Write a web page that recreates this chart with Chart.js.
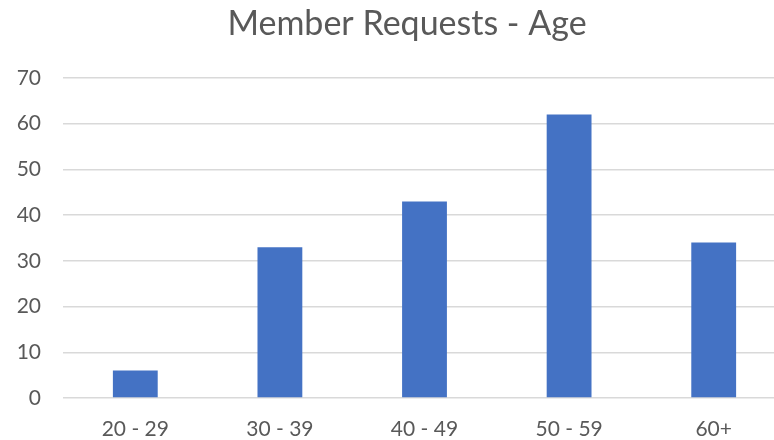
<!DOCTYPE html>
<html><head><meta charset="utf-8">
<script src="https://cdn.jsdelivr.net/npm/chart.js@4"></script>
<style>
html,body{margin:0;padding:0;overflow:hidden;background:#fff;width:774px;height:440px;}
#wrap{position:absolute;left:0;top:0;width:786px;height:440px;}
</style></head>
<body>
<div id="wrap"><canvas id="c" width="786" height="440"></canvas></div>
<script>
const categories = ["20 - 29", "30 - 39", "40 - 49", "50 - 59", "60+"];
const requests = [6, 33, 43, 62, 34];
const yTicks = [0, 10, 20, 30, 40, 50, 60, 70];

const FONT = "Lato, 'Open Sans', sans-serif";
const shiftTitle = {
  id: 'shiftTitle',
  afterLayout(chart) {
    const t = chart.titleBlock;
    if (t) { t.left = 28; t.width = t.right - t.left; }
  }
};
new Chart(document.getElementById('c'), {
  type: 'bar',
  plugins: [shiftTitle],
  data: {
    labels: categories,
    datasets: [{
      label: 'Member Requests',
      data: requests,
      backgroundColor: '#4472C4',
      barPercentage: 0.31,
      categoryPercentage: 1.0
    }]
  },
  options: {
    responsive: false,
    animation: false,
    devicePixelRatio: 1,
    layout: { padding: 0 },
    plugins: {
      legend: { display: false },
      tooltip: { enabled: false },
      title: {
        display: true,
        text: 'Member Requests - Age',
        color: '#595959',
        font: { family: FONT, size: 34, weight: 'normal' },
        padding: { top: 3.5, bottom: 33.7 }
      }
    },
    scales: {
      x: {
        grid: { display: false, drawTicks: false },
        border: { display: false },
        ticks: { color: '#595959', font: { family: FONT, size: 21 }, padding: 19 },
        afterFit: s => { s.height = 42; }
      },
      y: {
        min: 0, max: 70,
        afterBuildTicks: s => { s.ticks = yTicks.map(v => ({ value: v })); },
        grid: { color: '#d9d9d9', lineWidth: 1.5, drawTicks: false },
        border: { display: false },
        ticks: { color: '#595959', font: { family: FONT, size: 21 }, padding: 22 },
        afterFit: s => { s.width = 63; }
      }
    }
  }
});
</script>
</body></html>
